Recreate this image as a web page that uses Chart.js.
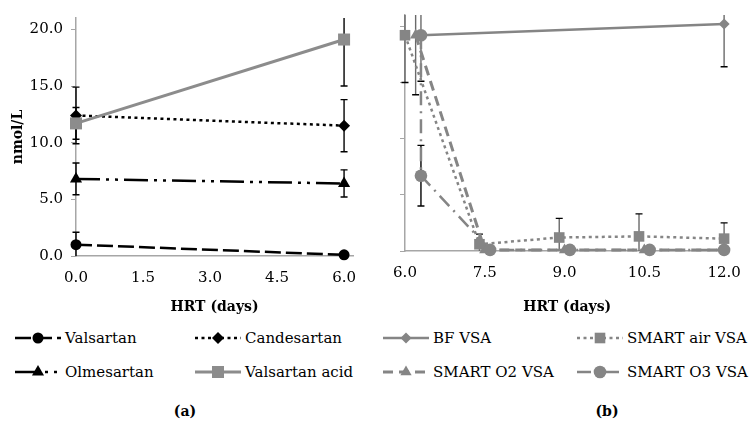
<!DOCTYPE html>
<html>
<head>
<meta charset="utf-8">
<script src="https://cdn.jsdelivr.net/npm/chart.js@4"></script>
<style>
  body { margin: 0; width: 754px; height: 422px; background: #fff; position: relative; overflow: hidden; font-family: "DejaVu Serif", serif; }
  .wrap { position: absolute; top: 0; height: 320px; }
  #wrapA { left: 0; width: 380px; }
  #wrapB { left: 380px; width: 374px; }
  .leg { position: absolute; display: flex; align-items: center; height: 20px; font-size: 15px; color: #000; white-space: nowrap; }
  .leg canvas { margin-right: 4px; }
  .cap { position: absolute; font-weight: bold; font-size: 14px; transform: translateX(-50%); }
</style>
</head>
<body>
<div class="wrap" id="wrapA"><canvas id="chartA"></canvas></div>
<div class="wrap" id="wrapB"><canvas id="chartB"></canvas></div>
<div id="legendA"></div>
<div id="legendB"></div>
<div class="cap" style="left:185px; top:403px;">(a)</div>
<div class="cap" style="left:607px; top:403px;">(b)</div>

<script>
// tick labels
const yTicks = [0, 5, 10, 15, 20];
const xTicksA = [0, 1.5, 3.0, 4.5, 6.0];
const xTicksB = [6.0, 7.5, 9.0, 10.5, 12.0];

// (a) HRT in days
const hrtA = [0, 6];
const valsartan = [1.0, 0.1];
const valsartanErr = [1.1, 0];
const candesartan = [12.4, 11.5];
const candesartanErr = [2.5, 2.3];
const olmesartan = [6.8, 6.4];
const olmesartanErr = [1.4, 1.2];
const valsartanAcid = [11.7, 19.1];
const valsartanAcidErr = [1.4, 4.1];

// (b) valsartan acid per reactor
const bfX = [6.3, 12.0];
const bfVsa = [19.2, 20.2];
const bfErr = [4.1, 3.8];
const airX = [6.0, 7.4, 8.9, 10.4, 12.0];
const airVsa = [19.2, 0.6, 1.2, 1.3, 1.1];
const airErr = [4.2, 0.9, 1.7, 2.0, 1.4];
const o2X = [6.2, 7.5, 9.0, 10.5, 12.0];
const o2Vsa = [19.2, 0.1, 0.1, 0.1, 0.1];
const o2Err = [5.3, 0, 0, 0, 0];
const o3X = [6.3, 6.3, 7.6, 9.1, 10.6, 12.0];
const o3Vsa = [19.2, 6.7, 0.1, 0.1, 0.1, 0.1];
const o3Err = [0, 2.7, 0, 0, 0, 0];

Chart.defaults.font.family = 'DejaVu Serif';
Chart.defaults.color = '#000';

const GRAY_A = '#8c8c8c';
const GRAY_B = '#858585';
const AXIS = '#a6a6a6';

function pts(xs, ys) {
    return xs.map((x, i) => ({ x: x, y: ys[i] }));
}

const errorBars = {
    id: 'errorBars',
    beforeDatasetsDraw(chart) {
        const ctx = chart.ctx;
        const a = chart.chartArea;
        const yScale = chart.scales.y;
        ctx.save();
        ctx.beginPath();
        ctx.rect(a.left - 10, a.top, a.right - a.left + 20, a.bottom - a.top);
        ctx.clip();
        chart.data.datasets.forEach((ds, i) => {
            if (!ds.err) return;
            const meta = chart.getDatasetMeta(i);
            meta.data.forEach((pt, j) => {
                const e = ds.err[j];
                if (!e) return;
                const v = ds.data[j].y;
                const top = yScale.getPixelForValue(v + e);
                const bot = yScale.getPixelForValue(v - e);
                ctx.lineWidth = 1.4;
                ctx.strokeStyle = ds.errColor;
                ctx.beginPath();
                ctx.moveTo(pt.x, top);
                ctx.lineTo(pt.x, bot);
                ctx.stroke();
                ctx.strokeStyle = '#000';
                ctx.beginPath();
                ctx.moveTo(pt.x - 3.5, top); ctx.lineTo(pt.x + 3.5, top);
                ctx.moveTo(pt.x - 3.5, bot); ctx.lineTo(pt.x + 3.5, bot);
                ctx.stroke();
            });
        });
        ctx.restore();
    }
};

function yAxis(showLabels) {
    return {
        type: 'linear',
        min: 0,
        max: 21,
        afterBuildTicks: s => { s.ticks = yTicks.map(v => ({ value: v })); },
        afterFit: s => { s.width = showLabels ? 76 : 25; },
        grid: { drawOnChartArea: false, drawTicks: true, tickLength: 5, color: AXIS },
        border: { color: AXIS, width: 1.5 },
        ticks: {
            display: showLabels,
            padding: 8,
            font: { size: 15 },
            callback: v => v.toFixed(1)
        },
        title: {
            display: showLabels,
            text: 'nmol/L',
            font: { size: 14, weight: 'bold' },
            padding: { top: 10, bottom: 4 }
        }
    };
}

function xAxis(min, max, list, height) {
    return {
        type: 'linear',
        min: min,
        max: max,
        afterBuildTicks: s => { s.ticks = list.map(v => ({ value: v })); },
        afterFit: s => { s.height = height; },
        grid: { drawOnChartArea: false, drawTicks: false, color: AXIS },
        border: { color: AXIS, width: 1.5 },
        ticks: {
            padding: 13,
            maxRotation: 0,
            font: { size: 15 },
            callback: v => v.toFixed(1)
        },
        title: {
            display: true,
            text: 'HRT (days)',
            font: { size: 14, weight: 'bold' },
            padding: { top: 4, bottom: 4 }
        }
    };
}

function commonOptions(pad, xScale, yScale) {
    return {
        responsive: true,
        maintainAspectRatio: false,
        animation: false,
        layout: { padding: pad },
        scales: { x: xScale, y: yScale },
        plugins: {
            legend: { display: false },
            tooltip: { enabled: false }
        }
    };
}

const dsA = [
    {
        label: 'Valsartan', data: pts(hrtA, valsartan), err: valsartanErr, errColor: '#000',
        borderColor: '#000', backgroundColor: '#000', borderWidth: 2.5, borderDash: [16, 5],
        pointStyle: 'circle', pointRadius: 5.5
    },
    {
        label: 'Candesartan', data: pts(hrtA, candesartan), err: candesartanErr, errColor: '#000',
        borderColor: '#000', backgroundColor: '#000', borderWidth: 2.5, borderDash: [3, 3.5],
        pointStyle: 'rectRot', pointRadius: 6
    },
    {
        label: 'Olmesartan', data: pts(hrtA, olmesartan), err: olmesartanErr, errColor: '#000',
        borderColor: '#000', backgroundColor: '#000', borderWidth: 2.5, borderDash: [24, 6, 3, 6, 3, 6],
        pointStyle: 'triangle', pointRadius: 7
    },
    {
        label: 'Valsartan acid', data: pts(hrtA, valsartanAcid), err: valsartanAcidErr, errColor: '#000',
        borderColor: GRAY_A, backgroundColor: GRAY_A, borderWidth: 3,
        pointStyle: 'rect', pointRadius: 8.5
    }
];

const dsB = [
    {
        label: 'BF VSA', data: pts(bfX, bfVsa), err: bfErr, errColor: '#6a6a6a',
        borderColor: GRAY_B, backgroundColor: GRAY_B, borderWidth: 2.5,
        pointStyle: 'rectRot', pointRadius: 5.5
    },
    {
        label: 'SMART air VSA', data: pts(airX, airVsa), err: airErr, errColor: '#6a6a6a',
        borderColor: GRAY_B, backgroundColor: GRAY_B, borderWidth: 2.5, borderDash: [3, 3.5],
        pointStyle: 'rect', pointRadius: 7.5
    },
    {
        label: 'SMART O2 VSA', data: pts(o2X, o2Vsa), err: o2Err, errColor: '#6a6a6a',
        borderColor: GRAY_B, backgroundColor: GRAY_B, borderWidth: 3, borderDash: [10, 6],
        pointStyle: 'triangle', pointRadius: 6.5
    },
    {
        label: 'SMART O3 VSA', data: pts(o3X, o3Vsa), err: o3Err, errColor: '#000',
        borderColor: GRAY_B, backgroundColor: GRAY_B, borderWidth: 2.5, borderDash: [14, 6, 2, 6],
        pointStyle: 'circle', pointRadius: 6.3
    }
];

[dsA, dsB].forEach(list => list.forEach((ds, i) => {
    ds.showLine = true;
    ds.clip = false;
    ds.pointBorderWidth = 0;
    ds.pointHoverRadius = ds.pointRadius;
    ds.order = list.length - i;
}));

const chartA = new Chart(document.getElementById('chartA'), {
    type: 'scatter',
    data: { datasets: dsA },
    options: commonOptions({ top: 18, right: 27, left: 0, bottom: 0 },
        xAxis(0, 6.2, xTicksA, 64), yAxis(true)),
    plugins: [errorBars]
});

const chartB = new Chart(document.getElementById('chartB'), {
    type: 'scatter',
    data: { datasets: dsB },
    options: commonOptions({ top: 15, right: 12, left: 0, bottom: 0 },
        xAxis(6, 12.1, xTicksB, 69), yAxis(false)),
    plugins: [errorBars]
});

// legend drawn from the dataset styles
function buildLegend(id, datasets, spots) {
    const holder = document.getElementById(id);
    datasets.forEach((ds, i) => {
        const item = document.createElement('div');
        item.className = 'leg';
        item.style.left = spots[i][0] + 'px';
        item.style.top = (spots[i][1] - 10) + 'px';
        const c = document.createElement('canvas');
        c.width = 46; c.height = 16;
        const ctx = c.getContext('2d');
        ctx.strokeStyle = ds.borderColor;
        ctx.lineWidth = ds.borderWidth;
        ctx.setLineDash(ds.borderDash || []);
        ctx.beginPath();
        ctx.moveTo(0, 8);
        ctx.lineTo(46, 8);
        ctx.stroke();
        ctx.setLineDash([]);
        ctx.fillStyle = ds.backgroundColor;
        Chart.helpers.drawPoint(ctx, { pointStyle: ds.pointStyle, radius: ds.pointRadius, borderWidth: 0, rotation: 0 }, 23, 8);
        const t = document.createElement('span');
        t.textContent = ds.label;
        item.appendChild(c);
        item.appendChild(t);
        holder.appendChild(item);
    });
}

buildLegend('legendA', dsA, [[15, 338], [195, 338], [15, 372], [195, 372]]);
buildLegend('legendB', dsB, [[383, 338], [577, 338], [383, 372], [577, 372]]);
</script>
</body>
</html>
